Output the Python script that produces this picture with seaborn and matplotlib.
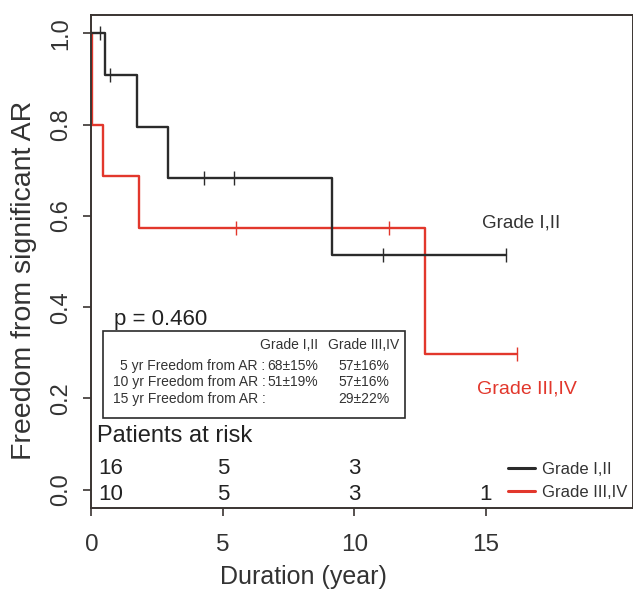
import matplotlib

matplotlib.use("Agg")

import matplotlib.pyplot as plt
import numpy as np
import pandas as pd
import seaborn as sns
from matplotlib.lines import Line2D
from matplotlib.patches import Rectangle

# Kaplan-Meier steps
grade12_time = [0.0, 0.51, 1.72, 2.92, 9.16, 15.77]
grade12_surv = [1.0, 0.909, 0.795, 0.682, 0.515, 0.515]
grade12_censor = [0.32, 0.69, 4.28, 5.43, 11.1, 15.77]

grade34_time = [0.0, 0.02, 0.43, 1.81, 12.67, 16.2]
grade34_surv = [1.0, 0.80, 0.688, 0.573, 0.297, 0.297]
grade34_censor = [5.48, 11.33, 16.2]

group_names = ["Grade I,II", "Grade III,IV"]
p_value = "p = 0.460"

table_rows = ["5 yr Freedom from AR :", "10 yr Freedom from AR :", "15 yr Freedom from AR :"]
table_g12 = ["68\u00b115%", "51\u00b119%", ""]
table_g34 = ["57\u00b116%", "57\u00b116%", "29\u00b122%"]

risk_times = [0, 5, 10, 15]
risk_g12 = ["16", "5", "3", ""]
risk_g34 = ["10", "5", "3", "1"]

x_ticks = [0, 5, 10, 15]
y_ticks = [0.0, 0.2, 0.4, 0.6, 0.8, 1.0]

BLACK = "#2b2b2b"
RED = "#e2372c"
SPINE = "#3a3431"


def surv_at(t, times, surv):
    idx = np.searchsorted(times, t, side="right") - 1
    return surv[idx]


sns.set_style("white")
plt.rcParams["font.family"] = ["Liberation Sans", "DejaVu Sans"]

fig = plt.figure(figsize=(6.33, 5.91), dpi=100)
ax = fig.add_axes([0.1445, 0.1404, 0.8555, 0.8342])

curves = [
    (grade12_time, grade12_surv, grade12_censor, BLACK),
    (grade34_time, grade34_surv, grade34_censor, RED),
]
for times, surv, censor, color in curves[::-1]:
    df = pd.DataFrame({"time": times, "surv": surv})
    sns.lineplot(data=df, x="time", y="surv", drawstyle="steps-post", estimator=None,
                 sort=False, color=color, lw=1.7, ax=ax)
    cdf = pd.DataFrame({"time": censor, "surv": [surv_at(t, times, surv) for t in censor]})
    sns.scatterplot(data=cdf, x="time", y="surv", marker="|", s=90, color=color,
                    linewidth=1.0, ax=ax, zorder=3)

ax.set_xlim(0, 20.6)
ax.set_ylim(-0.04, 1.04)
ax.set_xticks(x_ticks)
ax.set_yticks(y_ticks)
ax.set_xticklabels([str(v) for v in x_ticks])
ax.set_yticklabels([f"{v:.1f}" for v in y_ticks], rotation=90, va="center")
ax.tick_params(axis="both", direction="out", length=6, width=1.2, color=SPINE,
               labelsize=17, labelcolor="#333333", bottom=True, left=True)
ax.tick_params(axis="x", pad=13, labelsize=17.5)
ax.tick_params(axis="y", pad=8)
for sp in ax.spines.values():
    sp.set_color(SPINE)
    sp.set_linewidth(1.4)

ax.set_xlabel("Duration (year)", fontsize=18, color="#333333")
ax.set_ylabel("Freedom from significant AR", fontsize=20.5, color="#333333")
ax.xaxis.set_label_coords(0.3915, -0.115)
ax.yaxis.set_label_coords(-0.10, 0.462)

# curve labels
ax.text(16.36, 0.585, group_names[0], fontsize=13.5, color="#333333", ha="center", va="center")
ax.text(16.55, 0.22, group_names[1], fontsize=14, color=RED, ha="center", va="center")

# p value and summary table
ax.text(0.84, 0.373, p_value, fontsize=16, color="#222222", ha="left", va="center")
ax.add_patch(Rectangle((0.42, 0.158), 11.51, 0.189, fill=False, ec=BLACK, lw=1.2))
ax.text(7.5, 0.318, group_names[0], fontsize=10, color="#333333", ha="center", va="center")
ax.text(10.37, 0.318, group_names[1], fontsize=10, color="#333333", ha="center", va="center")
for i, y in enumerate([0.271, 0.235, 0.198]):
    ax.text(6.62, y, table_rows[i], fontsize=10, color="#333333", ha="right", va="center")
    ax.text(7.65, y, table_g12[i], fontsize=10, color="#333333", ha="center", va="center")
    ax.text(10.37, y, table_g34[i], fontsize=10, color="#333333", ha="center", va="center")

# patients at risk
ax.text(0.2, 0.117, "Patients at risk", fontsize=17, color="#222222", ha="left", va="center")
for row, yv in [(risk_g12, 0.047), (risk_g34, -0.01)]:
    for t, n in zip(risk_times, row):
        if t == 0:
            ax.text(0.25, yv, n, fontsize=16, color="#222222", ha="left", va="center")
        else:
            ax.text(t, yv, n, fontsize=16, color="#222222", ha="center", va="center")

handles = [Line2D([], [], color=BLACK, lw=2.2), Line2D([], [], color=RED, lw=2.2)]
fig.legend(handles, group_names, loc="upper left", bbox_to_anchor=(0.803, 0.218),
           frameon=False, fontsize=12, handlelength=1.6, handletextpad=0.4,
           labelspacing=0.45, borderpad=0, borderaxespad=0, labelcolor="#333333")

fig.savefig("out.png", dpi=100)
